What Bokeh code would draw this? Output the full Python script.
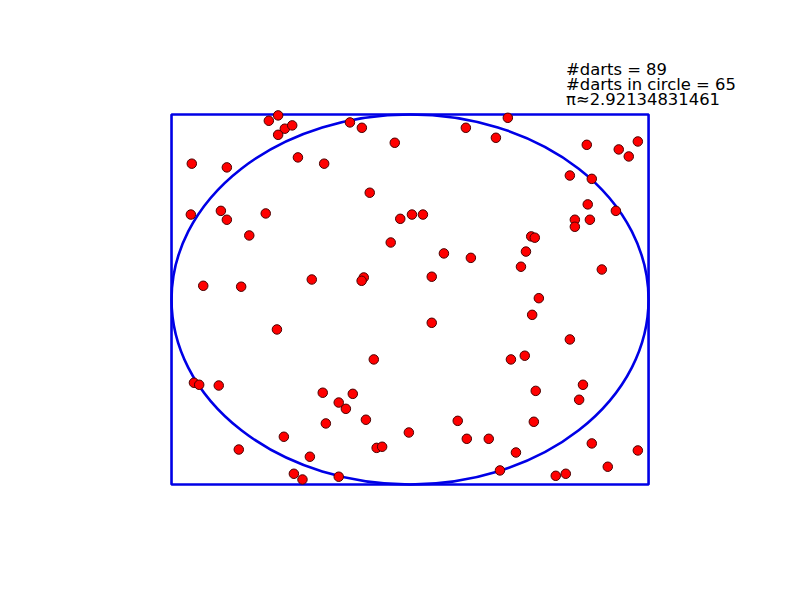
from bokeh.plotting import figure
from bokeh.models import Label, Range1d
from bokeh.embed import file_html
from bokeh.resources import INLINE

# Dart positions on a board spanning [-1, 1] x [-1, 1]
dart_x = [-0.592, -0.553, -0.525, -0.494, -0.553, -0.470, -0.360, -0.915, -0.768, -0.793,
          -0.919, -0.768, -0.605, -0.674, -0.867, -0.708, -0.412,
          -0.252, -0.202, 0.234, -0.064, -0.169, -0.041, 0.008, 0.054, -0.081,
          0.142, 0.255, 0.091, -0.194, -0.203,
          0.410, 0.360, 0.741, 0.955, 0.875, 0.917, 0.670, 0.762, 0.745, 0.863,
          0.691, 0.754, 0.691, 0.508, 0.523, 0.486, 0.465, 0.804, 0.540,
          -0.558, -0.906, -0.884, -0.802, -0.366, -0.353, -0.529, -0.718, -0.420, -0.487, -0.451,
          0.091, -0.152, -0.240, -0.299, -0.269, -0.185, 0.200, -0.005, 0.238, 0.330,
          -0.140, -0.117, -0.299,
          0.512, 0.670, 0.481, 0.423, 0.725, 0.527, 0.709, 0.519, 0.762, 0.955,
          0.444, 0.829, 0.377, 0.611, 0.653]
dart_y = [0.966, 0.995, 0.923, 0.941, 0.890, 0.768, 0.734, 0.734, 0.714, 0.479,
          0.459, 0.431, 0.465, 0.346, 0.074, 0.069, 0.108,
          0.957, 0.928, 0.928, 0.847, 0.577, 0.436, 0.459, 0.459, 0.308,
          0.249, 0.225, 0.123, 0.119, 0.101,
          0.982, 0.874, 0.836, 0.854, 0.811, 0.773, 0.670, 0.652, 0.514, 0.479,
          0.431, 0.431, 0.393, 0.341, 0.334, 0.259, 0.177, 0.162, 0.007,
          -0.162, -0.450, -0.461, -0.465, -0.504, -0.670, -0.742, -0.811, -0.850, -0.942, -0.973,
          -0.126, -0.324, -0.510, -0.557, -0.591, -0.650, -0.656, -0.719, -0.753, -0.753,
          -0.802, -0.796, -0.958,
          -0.083, -0.216, -0.304, -0.324, -0.461, -0.494, -0.542, -0.661, -0.778, -0.816,
          -0.827, -0.904, -0.924, -0.953, -0.942]

R = 1.0  # board half-size / circle radius

n_darts = len(dart_x)
n_in = sum(1 for a, b in zip(dart_x, dart_y) if a * a + b * b <= R * R)
pi_est = 4.0 * n_in / n_darts

p = figure(width=800, height=600, output_backend="svg", toolbar_location=None,
           x_range=Range1d(-1.717, 1.637), y_range=Range1d(-1.627, 1.616),
           min_border=0, background_fill_color="white", border_fill_color="white")
p.axis.visible = False
p.grid.visible = False
p.outline_line_color = None

p.quad(left=-R, right=R, bottom=-R, top=R, fill_color=None,
       line_color="#0000e6", line_width=2.6)
p.ellipse(x=0, y=0, width=2 * R, height=2 * R, fill_color=None,
          line_color="#0000e6", line_width=2.6)
p.scatter(dart_x, dart_y, size=9.5, fill_color="#ff0000", line_color="#4a0000", line_width=1)

lines = ["#darts = %d" % n_darts,
         "#darts in circle = %d" % n_in,
         "\u03c0\u2248%s" % format(pi_est, ".12g")]
ys = [1.2455, 1.1644, 1.0806]
for t, yy in zip(lines, ys):
    p.add_layout(Label(x=0.654, y=yy, text=t, text_font="DejaVu Sans",
                       text_font_size="16.4px", text_color="black",
                       text_baseline="alphabetic", text_align="left"))

open("out.html", "w").write(file_html(p, INLINE))
